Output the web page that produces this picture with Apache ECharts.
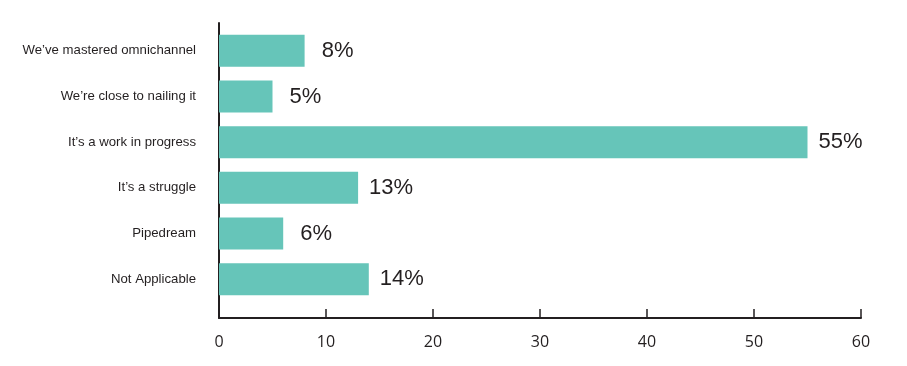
<!DOCTYPE html>
<html>
<head>
<meta charset="utf-8">
<script src="https://cdn.jsdelivr.net/npm/echarts@6/dist/echarts.min.js"></script>
<style>
html,body{margin:0;padding:0;background:#fff;}
#chart{width:907px;height:366px;}
</style>
</head>
<body>
<div id="chart"></div>
<script>
const categories = [
  "We\u2019ve mastered omnichannel",
  "We\u2019re close to nailing it",
  "It\u2019s a work in progress",
  "It\u2019s a struggle",
  "Pipedream",
  "Not Applicable"
];
const values = [8, 5, 55, 13, 6, 14];
const xTicks = [0, 10, 20, 30, 40, 50, 60];

const chart = echarts.init(document.getElementById('chart'), null, {renderer: 'canvas'});
const ink = '#231F20';
chart.setOption({
  animation: false,
  backgroundColor: '#fff',
  grid: [
    {left: 219, right: 46, top: 28, bottom: 64},
    {left: 219, right: 46, top: 23, bottom: 48}
  ],
  xAxis: [
    {gridIndex: 0, type: 'value', min: xTicks[0], max: xTicks[xTicks.length - 1], show: false},
    {
      gridIndex: 1, type: 'value', min: xTicks[0], max: xTicks[xTicks.length - 1], interval: 10,
      axisLine: {show: true, lineStyle: {color: ink, width: 2}},
      axisTick: {show: true, inside: true, length: 9, lineStyle: {color: ink, width: 1.5}},
      axisLabel: {show: true, color: ink, fontFamily: 'Open Sans', fontSize: 16, margin: 16},
      splitLine: {show: false}
    }
  ],
  yAxis: [
    {
      gridIndex: 0, type: 'category', data: categories, inverse: true,
      axisLine: {show: false}, axisTick: {show: false},
      axisLabel: {color: ink, fontFamily: 'Liberation Sans', fontSize: 13.2, margin: 23}
    },
    {
      gridIndex: 1, type: 'value', min: 0, max: 1,
      axisLine: {show: true, lineStyle: {color: ink, width: 2}},
      axisTick: {show: false}, axisLabel: {show: false}, splitLine: {show: false}
    }
  ],
  series: [{
    type: 'bar',
    xAxisIndex: 0, yAxisIndex: 0,
    data: values,
    barWidth: 32,
    itemStyle: {color: '#66C5B9'},
    label: {
      show: true, position: 'right', distance: 33, align: 'center',
      formatter: '{c}%', color: ink, fontFamily: 'Liberation Sans', fontSize: 22
    }
  }]
});
</script>
</body>
</html>
